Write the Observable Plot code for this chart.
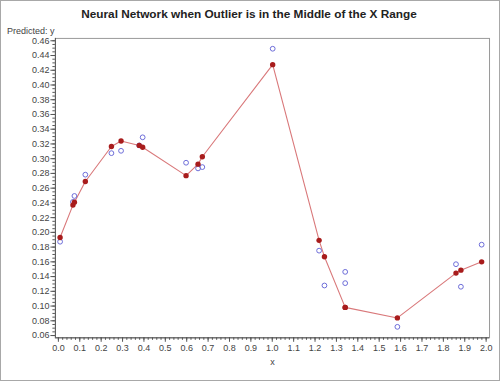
<!DOCTYPE html>
<html>
<head>
<meta charset="utf-8">
<script src="https://cdn.jsdelivr.net/npm/d3@7"></script>
<script src="https://cdn.jsdelivr.net/npm/@observablehq/plot@0.6"></script>
<style>
  html, body { margin: 0; padding: 0; background: #fff; }
  #wrap { position: relative; width: 500px; height: 381px; box-sizing: border-box; border: 1px solid #a8a8a8; overflow: hidden; font-family: "Liberation Sans", Arial, sans-serif; }
  #title { position: absolute; left: 0; top: 6px; width: 496px; text-align: center; font-weight: bold; font-size: 11.8px; color: #222; }
  #ylab { position: absolute; left: 6px; top: 25px; font-size: 9px; color: #444; }
  #chart { position: absolute; left: -1px; top: -1px; }
</style>
</head>
<body>
<div id="wrap">
  <div id="chart"></div>
  <div id="title">Neural Network when Outlier is in the Middle of the X Range</div>
  <div id="ylab">Predicted: y</div>
</div>
<script>
const xs        = [0.008, 0.068, 0.075, 0.126, 0.248, 0.293, 0.378, 0.394, 0.597, 0.653, 0.673, 1.002, 1.219, 1.244, 1.341, 1.341, 1.585, 1.859, 1.882, 1.979];
const observed  = [0.1873, 0.2413, 0.2494, 0.2783, 0.3075, 0.3107, 0.318, 0.329, 0.2945, 0.2868, 0.2886, 0.4492, 0.1752, 0.1279, 0.1464, 0.1311, 0.0718, 0.1568, 0.1262, 0.1833];
const predicted = [0.193, 0.237, 0.241, 0.269, 0.3165, 0.324, 0.318, 0.3156, 0.277, 0.2926, 0.3026, 0.4276, 0.1892, 0.167, 0.0982, 0.0982, 0.0839, 0.1447, 0.1487, 0.160];
const xTicks = d3.range(0, 21).map(i => i / 10);
const yTicks = d3.range(3, 24).map(i => i / 50);
const xMinor = d3.range(0, 101).map(i => i / 50);
const yMinor = d3.range(12, 93).map(i => i / 200);

const rows = xs.map((x, i) => ({x, obs: observed[i], pred: predicted[i]}));

const font = "Liberation Sans, Arial, sans-serif";
const chart = Plot.plot({
  width: 500, height: 381,
  marginLeft: 55, marginRight: 10, marginTop: 38, marginBottom: 43,
  style: {fontFamily: font, fontSize: "9px", color: "#333", background: "transparent"},
  x: {domain: [-0.014, 2.0158]},
  y: {domain: [0.0569, 0.4632]},
  marks: [
    Plot.frame({stroke: "#999"}),
    Plot.axisX(xMinor, {tickSize: 2.5, text: null, stroke: "#555", label: null}),
    Plot.axisY(yMinor, {tickSize: 2.5, text: null, stroke: "#555", label: null}),
    Plot.axisX(xTicks, {tickSize: 4.5, tickPadding: 2, tickFormat: d => d.toFixed(1), stroke: "#555", fill: "#444", label: null}),
    Plot.axisY(yTicks, {tickSize: 4.5, tickPadding: 1.5, tickFormat: d => d.toFixed(2), stroke: "#555", fill: "#444", label: null}),
    Plot.ruleX([-0.014], {stroke: "#555"}),
    Plot.ruleY([0.0569], {stroke: "#555"}),
    Plot.text(["x"], {frameAnchor: "bottom", dy: 27, fill: "#444", fontSize: 9}),
    Plot.line(rows, {x: "x", y: "pred", stroke: "#d9787a", strokeWidth: 1.1}),
    Plot.dot(rows, {x: "x", y: "obs", r: 2.4, stroke: "#6c6cd8", strokeWidth: 1, fill: "none"}),
    Plot.dot(rows, {x: "x", y: "pred", r: 2.7, fill: "#a81c1c", stroke: "none"})
  ]
});
document.getElementById("chart").appendChild(chart);
</script>
</body>
</html>
